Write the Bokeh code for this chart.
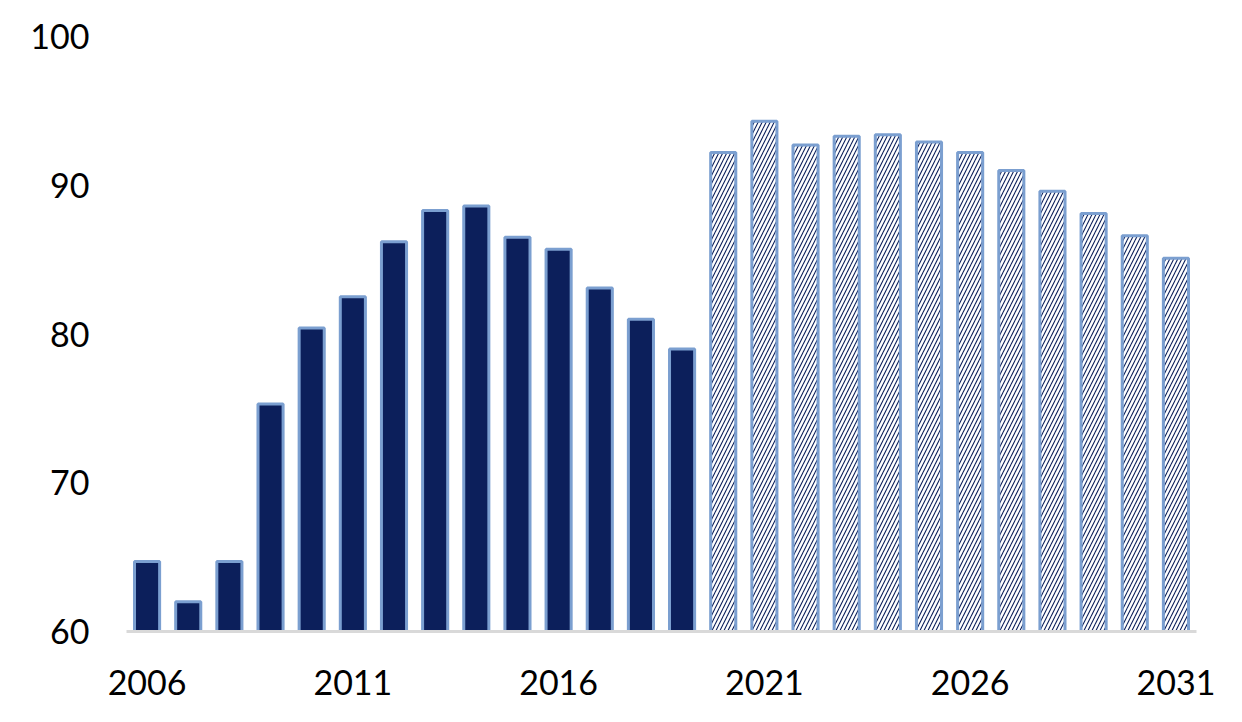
from bokeh.plotting import figure
from bokeh.models import ColumnDataSource, FixedTicker, Range1d
from bokeh.embed import file_html
from bokeh.resources import INLINE

years_actual = list(range(2006, 2020))
values_actual = [64.7, 62.0, 64.7, 75.3, 80.4, 82.5, 86.2, 88.3, 88.6, 86.5, 85.7, 83.1, 81.0, 79.0]
years_proj = list(range(2020, 2032))
values_proj = [92.2, 94.3, 92.7, 93.3, 93.4, 92.9, 92.2, 91.0, 89.6, 88.1, 86.6, 85.1]
x_ticks = [2006, 2011, 2016, 2021, 2026, 2031]
y_ticks = [60, 70, 80, 90, 100]

p = figure(width=1226, height=706, output_backend="svg", toolbar_location=None,
           x_range=Range1d(2005.5, 2031.5), y_range=Range1d(60, 100))
p.min_border_left = 126
p.min_border_right = 30
p.min_border_top = 36
p.min_border_bottom = 75
p.outline_line_color = None
p.grid.visible = False

src_a = ColumnDataSource(dict(x=years_actual, top=values_actual))
src_p = ColumnDataSource(dict(x=years_proj, top=values_proj))

p.vbar(x="x", top="top", bottom=60, width=0.61, source=src_a,
       fill_color="#0c1f5b", line_color="#7b9fd0", line_width=3)
p.vbar(x="x", top="top", bottom=60, width=0.61, source=src_p,
       fill_color="white", line_color="#7b9fd0", line_width=3,
       hatch_pattern="right_diagonal_line", hatch_color="#0c1f5b",
       hatch_scale=8, hatch_weight=1.1)

font = "Lato"
p.xaxis.ticker = FixedTicker(ticks=x_ticks)
p.yaxis.ticker = FixedTicker(ticks=y_ticks)
for ax in (p.xaxis, p.yaxis):
    ax.major_tick_line_color = None
    ax.minor_tick_line_color = None
    ax.major_label_text_font = font
    ax.major_label_text_font_size = "34px"
    ax.major_label_text_color = "black"
p.yaxis.axis_line_color = None
p.xaxis.axis_line_color = "#d9d9d9"
p.xaxis.axis_line_width = 3
p.yaxis.major_label_standoff = 31
p.xaxis.major_label_standoff = 32

open("out.html", "w").write(file_html(p, INLINE))
